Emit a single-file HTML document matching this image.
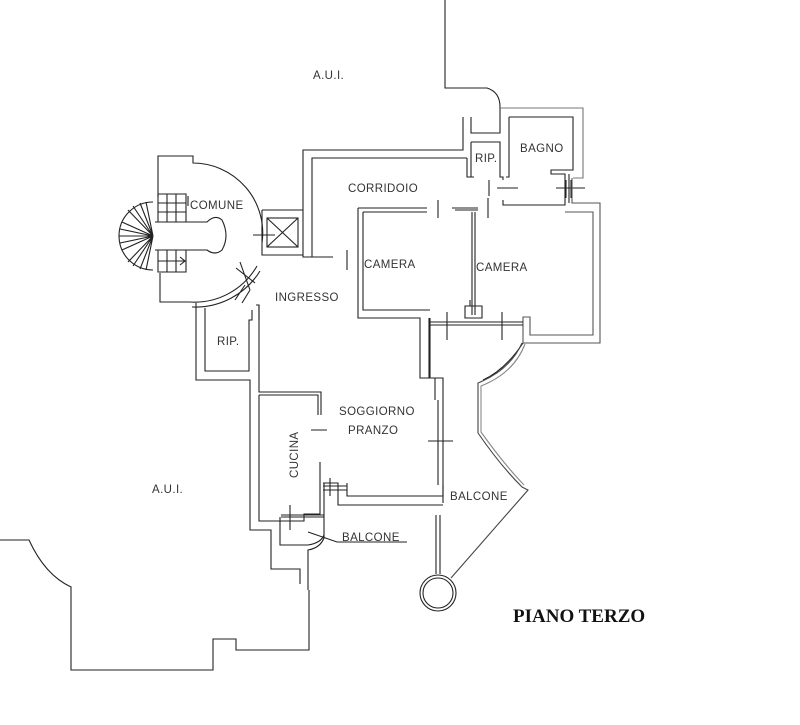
<!DOCTYPE html>
<html><head><meta charset="utf-8"><style>
html,body{margin:0;padding:0;background:#fff;}
svg{display:block;}
text{font-family:"Liberation Sans",sans-serif;font-size:11.5px;letter-spacing:0.4px;fill:#333;}
</style></head><body>
<svg width="800" height="725" viewBox="0 0 800 725" xmlns="http://www.w3.org/2000/svg">
<g fill="none" stroke="#222" stroke-width="1.1">
<path d="M445 0 V88 H487 Q500 92 500 107 V133 H471 V117"/>
<path d="M463 117 V150 H303 V257 H333"/>
<path d="M467 158 H312 V257"/>
<path d="M467 158 V177 H471"/>
<path d="M471 142 H500 V177 H503 V180"/>
<path d="M471 142 V177 H474"/>
<path d="M509 117 V177 H506"/>
<path d="M500 108 H583 V178 H573" stroke="#777"/>
<path d="M509 117 H573 V170 H551 V174 H565 V205 H503 V200"/>
<path d="M569 174 V203"/>
<path d="M556 188 H585 M566 180 V198 M571 180 V198"/>
<path d="M358 208 H427 M363 212 H427"/>
<path d="M452 208 H478 M472 212 V315 M475 212 V315"/>
<path d="M438 200 V218 M488 198 V218 M455 210 H478"/>
<path d="M489 180 V196 M497 188 H518"/>
<path d="M572 178 V203 H600 V343 H523 V317 H530 V335 H593 V212 H565" stroke="#555"/>
<path d="M358 208 V318 H420 V378 H430 V318"/>
<path d="M363 212 V310 H430"/>
<path d="M465 306 H482 V318 H465 Z M470 300 V306"/>
<path d="M430 322 H523 M430 325 H523"/>
<path d="M447 312 V340 M502 312 V340"/>
<path d="M523 343 Q505 370 483 380"/>
<path d="M347 250 V270"/>
<path d="M420 378 H435 V400 M429 318 V378 H443 V503"/>
<path d="M438 400 V485" />
<path d="M428 441 H453"/>
<path d="M522 343 Q510 370 478 383 V433 Q500 465 522 487 L528 490 L451 578" stroke="#444"/>
<path d="M525 344 Q514 373 481 386 V432 Q503 463 524 485" stroke="#888"/>
<path d="M436 515 V574 M440 515 V574"/>
<circle cx="438" cy="593" r="18"/>
<circle cx="438" cy="593" r="15"/>
<path d="M323 483 H338 V505 H443 M347 483 V496 H443 V485"/>
<path d="M323 486 H347 M323 490 H347 M330 478 V496"/>
<path d="M158 197 V156 H193 V163 A70 70 0 0 1 262 243"/>
<path d="M160 273 V302 H190"/>
<path d="M190 302 A72 72 0 0 0 257 266 M192 307 A76 76 0 0 0 260 271"/>
<path d="M262 210 H303 M262 243 V255 H303 M262 210 V232"/>
<rect x="267" y="218" width="31" height="29"/>
<path d="M267 218 L298 247 M298 218 L267 247"/>
<path d="M253 235 H275 M262 228 V242"/>
<path d="M236 268 L255 283 M240 262 L250 290 M245 285 L235 300 M250 290 L242 303"/>
<path d="M153 202 A34 34 0 0 0 153 270"/>
<path d="M119 236 H153 M122 222 L153 236 M128 210 L153 236 M140 203 L153 236 M122 250 L153 236 M128 262 L153 236 M140 269 L153 236 M120 229 L153 236 M120 243 L153 236 M133 206 L153 236 M146 202 L153 236 M133 266 L153 236 M146 270 L153 236"/>
<path d="M158 194 H186 V222 M158 203 H186 M158 212 H186 M167 194 V222 M176 194 V222 M158 194 V222"/>
<path d="M158 250 H186 V272 H158 Z M158 261 H186 M167 250 V272 M176 250 V272"/>
<path d="M180 257 L185 261 L180 265 M188 196 V206"/>
<path d="M155 222 H207 Q215 214 222 220 Q230 236 222 250 Q215 256 207 250 H155"/>
<path d="M196 303 V380 H250 V530 H271 V569 H300 V584"/>
<path d="M205 308 V371 H249 V320 H252 V310"/>
<path d="M259 305 V392 H321 V415 M259 395 H318 V415"/>
<path d="M259 395 V521 H304 V514 H320 V462"/>
<path d="M259 320 V305 H256"/>
<path d="M311 430 H327 M290 505 V530 M281 515 H324 M281 517 H324"/>
<path d="M280 517 V545 H308 M324 483 V538 Q320 548 308 550 V590"/>
<path d="M308 545 Q321 543 324 535"/>
<path d="M308 532 L337 542 H407"/>
<path d="M0 540 H29 Q45 575 71 587 V670 H213 V639 H236 V650 H309 V590"/>
</g>
<text x="313" y="79">A.U.I.</text>
<text x="190" y="209">COMUNE</text>
<text x="348" y="192">CORRIDOIO</text>
<text x="475" y="162">RIP.</text>
<text x="520" y="152">BAGNO</text>
<text x="364" y="268">CAMERA</text>
<text x="476" y="271">CAMERA</text>
<text x="275" y="301">INGRESSO</text>
<text x="217" y="345">RIP.</text>
<text x="339" y="415">SOGGIORNO</text>
<text x="348" y="434">PRANZO</text>
<text transform="translate(298,478) rotate(-90)">CUCINA</text>
<text x="152" y="493">A.U.I.</text>
<text x="450" y="500">BALCONE</text>
<text x="342" y="541">BALCONE</text>
<text x="513" y="622" style="font-family:'Liberation Serif',serif;font-weight:bold;font-size:19px;letter-spacing:0;fill:#111">PIANO TERZO</text>
</svg>
</body></html>
